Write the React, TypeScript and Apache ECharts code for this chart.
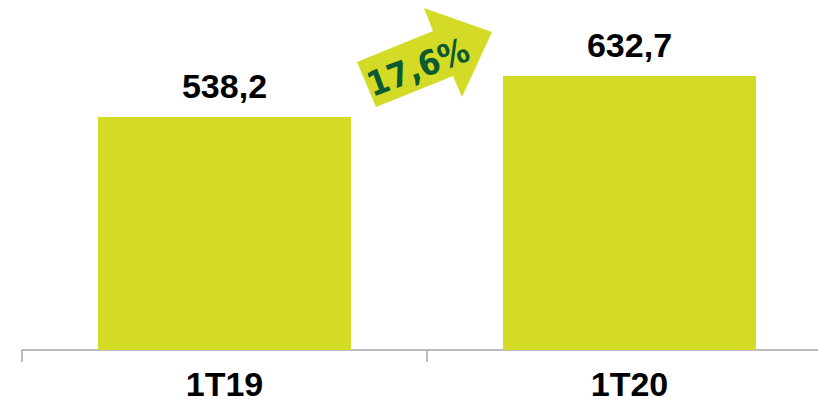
import React, { useEffect, useRef } from "react";
import * as echarts from "echarts";

const categories = ["1T19", "1T20"];
const values = [538.2, 632.7];
const valueLabels = ["538,2", "632,7"];
const growthLabel = "17,6%";

export default function App() {
  const ref = useRef<HTMLDivElement>(null);
  useEffect(() => {
    const chart = echarts.init(ref.current!, undefined, { renderer: "svg" });
    chart.setOption({
      animation: false,
      backgroundColor: "#ffffff",
      grid: {
        left: 22,
        right: -14,
        top: 10,
        bottom: 52,
        containLabel: false,
        outerBoundsMode: "none",
      },
      xAxis: {
        type: "category",
        data: categories,
        axisLine: { show: true, lineStyle: { color: "#a6a6a6", width: 1.5 } },
        axisTick: { show: true, length: 12, lineStyle: { color: "#a6a6a6", width: 1.5 } },
        axisLabel: {
          color: "#000000",
          fontFamily: "'Liberation Sans', Arial, sans-serif",
          fontWeight: "bold",
          fontSize: 34,
          margin: 17,
        },
      },
      yAxis: { type: "value", min: 0, max: 785, show: false, splitLine: { show: false } },
      series: [
        {
          type: "bar",
          data: values,
          barWidth: 253,
          itemStyle: { color: "#d4db26" },
          label: {
            show: true,
            position: "top",
            distance: 14,
            color: "#000000",
            fontFamily: "'Liberation Sans', Arial, sans-serif",
            fontWeight: "bold",
            fontSize: 34,
            formatter: (p: any) => valueLabels[p.dataIndex],
          },
        },
      ],
      graphic: [
        {
          type: "polygon",
          shape: {
            points: [
              [357, 62],
              [433, 31],
              [424, 8],
              [492, 32],
              [462, 97],
              [453, 76],
              [376, 107],
            ],
          },
          style: { fill: "#d4db26" },
          z: 10,
        },
        {
          type: "text",
          x: 418,
          y: 67,
          rotation: 0.36,
          style: {
            text: growthLabel,
            fill: "#0b5a30",
            font: "bold 34px 'DejaVu Sans Condensed', sans-serif",
            align: "center",
            verticalAlign: "middle",
          },
          z: 11,
        },
      ],
    });
    return () => chart.dispose();
  }, []);
  return <div ref={ref} style={{ width: 818, height: 402, position: "absolute", left: 0, top: 0 }} />;
}
